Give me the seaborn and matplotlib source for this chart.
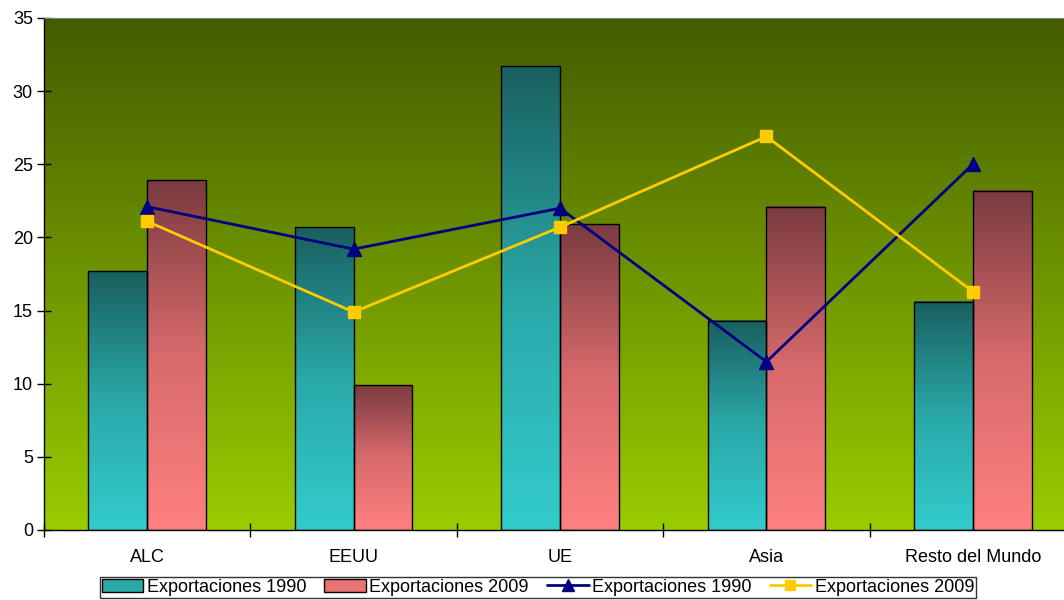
import numpy as np
import pandas as pd
import matplotlib
matplotlib.use('Agg')
import matplotlib.pyplot as plt
import seaborn as sns
from matplotlib.colors import LinearSegmentedColormap
from matplotlib.patches import Patch
from matplotlib.lines import Line2D

regiones = ['ALC', 'EEUU', 'UE', 'Asia', 'Resto del Mundo']
barras_1990 = [17.7, 20.7, 31.7, 14.3, 15.6]
barras_2009 = [23.9, 9.9, 20.9, 22.1, 23.2]
linea_1990 = [22.1, 19.2, 22.0, 11.5, 25.0]
linea_2009 = [21.1, 14.9, 20.7, 26.9, 16.3]
serie_nombres = ['Exportaciones 1990', 'Exportaciones 2009']

sns.set_style('white')
plt.rcParams['font.family'] = ['Liberation Sans', 'DejaVu Sans']
plt.rcParams['text.color'] = 'black'

df = pd.DataFrame({
    'region': regiones * 2,
    'valor': barras_1990 + barras_2009,
    'serie': [serie_nombres[0]] * 5 + [serie_nombres[1]] * 5,
})

fig = plt.figure(figsize=(10.64, 6), dpi=100)
ax = fig.add_axes([44 / 1064, 70 / 600, 1032 / 1064, 512 / 600])

# fondo degradado
bg = LinearSegmentedColormap.from_list('bg', ['#99CC00', '#445C00'])
grad = np.linspace(0, 1, 256).reshape(-1, 1)
ax.imshow(grad, cmap=bg, aspect='auto', extent=[0, 1, 0, 1],
          transform=ax.transAxes, origin='lower', zorder=0)

sns.barplot(data=df, x='region', y='valor', hue='serie', order=regiones,
            hue_order=serie_nombres, width=0.57, gap=0, ax=ax,
            legend=False, zorder=2)

cmaps = [LinearSegmentedColormap.from_list('teal', ['#33CCCC', '#2AA8A8', '#1A5F5F']),
         LinearSegmentedColormap.from_list('rosa', ['#FF8080', '#D86A6C', '#7A3B3F'])]
patches = [p for p in ax.patches if p.get_height() > 0]
for i, p in enumerate(patches):
    cm = cmaps[0] if i < 5 else cmaps[1]
    x0, w, h = p.get_x(), p.get_width(), p.get_height()
    ax.imshow(grad, cmap=cm, aspect='auto', origin='lower',
              extent=[x0, x0 + w, 0, h], zorder=2)
    p.set_facecolor('none')
    p.set_edgecolor('black')
    p.set_linewidth(1.0)
    p.set_zorder(3)

xs = np.arange(len(regiones))
ax.plot(xs, linea_1990, color='#000080', lw=2, marker='^', ms=10, zorder=4)
ax.plot(xs, linea_2009, color='#FFCC00', lw=2, marker='s', ms=8, zorder=4)

ax.set_xlim(-0.5, 4.5)
ax.set_ylim(0, 35)
ax.set_yticks(range(0, 36, 5))
ax.set_xticks(xs)
ax.set_xticklabels(regiones)
ax.set_xticks(np.arange(-0.5, 5, 1), minor=True)
ax.tick_params(axis='x', which='major', bottom=False, length=0, pad=14,
               labelsize=13, labelcolor='black')
ax.tick_params(axis='x', which='minor', bottom=True, direction='inout',
               length=10, width=1, color='black')
ax.tick_params(axis='y', left=True, direction='inout', length=10, width=1,
               color='black', labelsize=13, labelcolor='black', pad=3)
ax.set_xlabel('')
ax.set_ylabel('')
for s in ['left', 'bottom']:
    ax.spines[s].set_color('black')
    ax.spines[s].set_linewidth(1)
ax.spines['top'].set_color('#808080')
ax.spines['right'].set_color('#808080')

handles = [
    Patch(facecolor='#2AA8A8', edgecolor='black', label=serie_nombres[0]),
    Patch(facecolor='#E87373', edgecolor='black', label=serie_nombres[1]),
    Line2D([], [], color='#000080', lw=2, marker='^', ms=9, label=serie_nombres[0]),
    Line2D([], [], color='#FFCC00', lw=2, marker='s', ms=7, label=serie_nombres[1]),
]
leg = fig.legend(handles=handles, loc='upper center', ncol=4,
                 bbox_to_anchor=(538 / 1064, 1 - 577 / 600), fontsize=13,
                 frameon=True, fancybox=False, edgecolor='black',
                 handlelength=2.3, handletextpad=0.2, columnspacing=1.0,
                 borderpad=0.1, borderaxespad=0)
leg.get_frame().set_linewidth(1)

fig.savefig('out.png', dpi=100)
